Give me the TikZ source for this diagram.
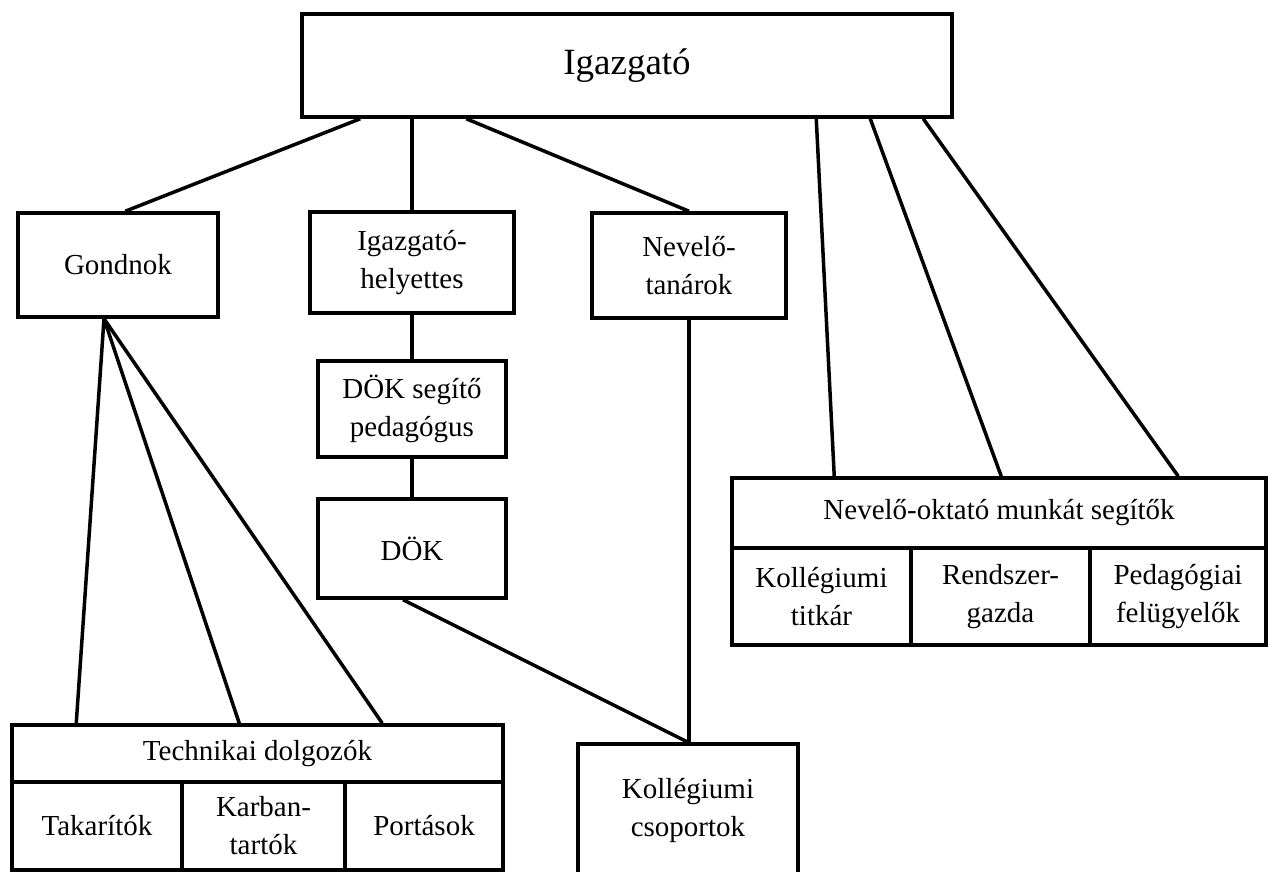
\documentclass[tikz,border=0pt]{standalone}
\usepackage{fontspec}
\setmainfont{Liberation Serif}
\begin{document}
\begin{tikzpicture}[x=1pt,y=-1pt,
  box/.style={draw=black, line width=3.5pt, rectangle, inner sep=0pt, align=center,
              font=\fontsize{29}{38}\selectfont},
  conn/.style={line width=3.5pt}]
\useasboundingbox (0,0) rectangle (1269,872);
\fill[white] (0,0) rectangle (1269,872);
% top
\node[box, minimum width=650, minimum height=103, font=\fontsize{37}{44}\selectfont] (dir) at (627,65.5) {Igazgató};
% second row
\node[box, minimum width=200, minimum height=104] (gond) at (118,265) {Gondnok};
\node[box, minimum width=204, minimum height=101] (ih) at (412,262.5) {Igazgató-\\helyettes};
\node[box, minimum width=194, minimum height=105] (nt) at (689,265.5) {Nevelő-\\tanárok};
% DÖK column
\node[box, minimum width=188, minimum height=96] (ds) at (412,409) {DÖK segítő\\pedagógus};
\node[box, minimum width=188, minimum height=99] (dok) at (412,548.5) {DÖK};
% Kollégiumi csoportok
\node[box, minimum width=220, minimum height=132] (kc) at (688,810) {Kollégiumi\\csoportok};
% Technikai dolgozók
\node[box, minimum width=491, minimum height=57] (tech) at (257.5,753.5) {Technikai dolgozók};
\node[box, minimum width=170, minimum height=88] (tak) at (97,826) {Takarítók};
\node[box, minimum width=163, minimum height=88] (karb) at (263.5,826) {Karban-\\tartók};
\node[box, minimum width=158, minimum height=88] (port) at (424,826) {Portások};
% Nevelő-oktató munkát segítők
\node[box, minimum width=534, minimum height=70] (no) at (999,513) {Nevelő-oktató munkát segítők};
\node[box, minimum width=179, minimum height=97] (kt) at (821.5,596.5) {Kollégiumi\\titkár};
\node[box, minimum width=179, minimum height=97] (rg) at (1000.5,596.5) {Rendszer-\\gazda};
\node[box, minimum width=176, minimum height=97] (pf) at (1178,596.5) {Pedagógiai\\felügyelők};
% connectors
\draw[conn] ([xshift=60pt]dir.south west) -- ([xshift=109pt]gond.north west);
\draw[conn] (ih.north) -- (ih.north |- dir.south);
\draw[conn] ([xshift=166pt]dir.south west) -- (nt.north);
\draw[conn] ([xshift=516pt]dir.south west) -- ([xshift=104pt]no.north west);
\draw[conn] ([xshift=570pt]dir.south west) -- ([xshift=271pt]no.north west);
\draw[conn] ([xshift=623pt]dir.south west) -- ([xshift=448pt]no.north west);
\draw[conn] (ih.south) -- (ds.north);
\draw[conn] (ds.south) -- (dok.north);
\draw[conn] ([xshift=-9pt]dok.south) -- (kc.north);
\draw[conn] (nt.south) -- (nt.south |- kc.north);
\draw[conn] ([xshift=-14pt]gond.south) -- ([xshift=66pt]tech.north west);
\draw[conn] ([xshift=-14pt]gond.south) -- ([xshift=229pt]tech.north west);
\draw[conn] ([xshift=-14pt]gond.south) -- ([xshift=372pt]tech.north west);
\end{tikzpicture}
\end{document}
